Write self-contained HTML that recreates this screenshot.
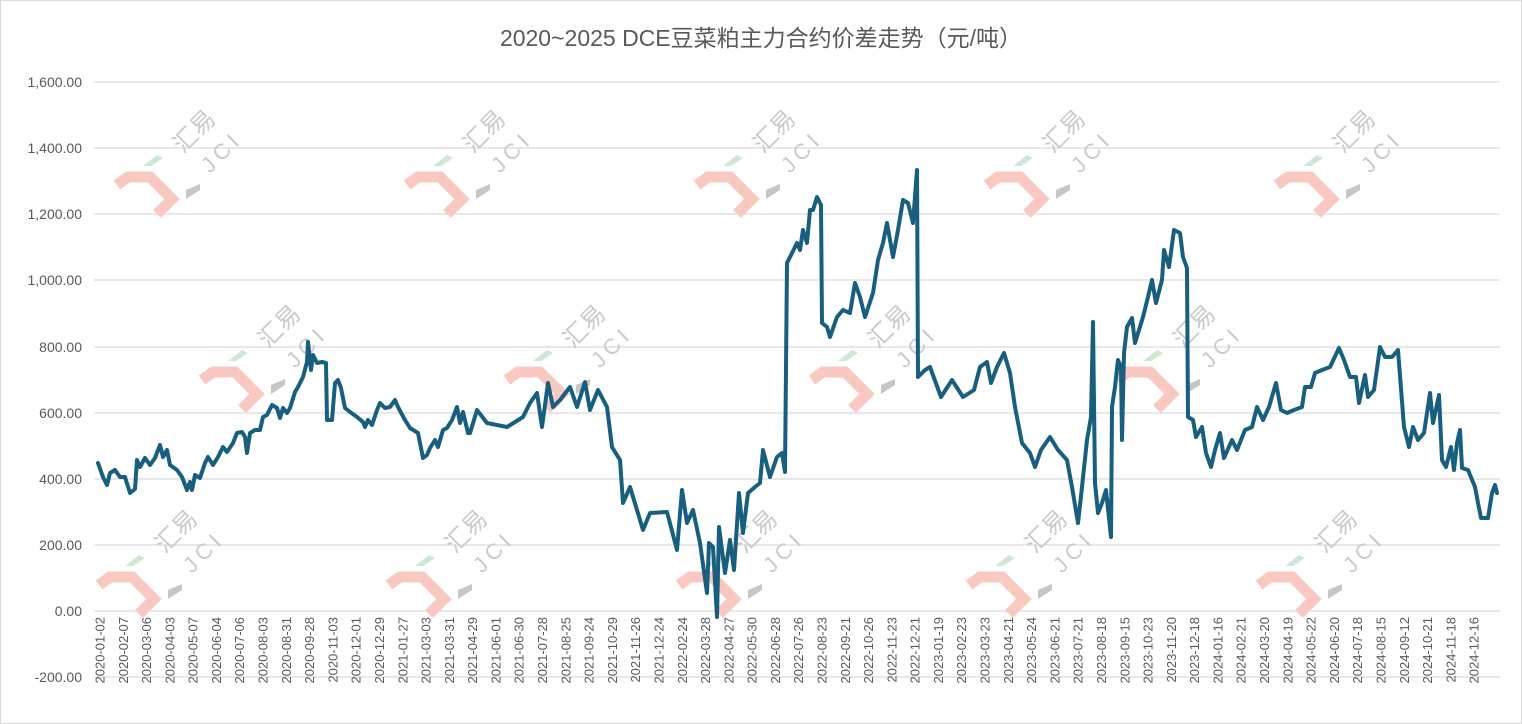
<!DOCTYPE html>
<html><head><meta charset="utf-8"><style>
html,body{margin:0;padding:0;background:#fff;}
svg{display:block;font-family:"Liberation Sans","Noto Sans CJK SC",sans-serif;}
</style></head><body>
<svg width="1522" height="724" viewBox="0 0 1522 724" xmlns="http://www.w3.org/2000/svg">
<rect x="0.5" y="0.5" width="1521" height="723" fill="#fff" stroke="#d9d9d9"/>
<text x="761" y="46" text-anchor="middle" font-size="23" fill="#595959">2020~2025 DCE豆菜粕主力合约价差走势（元/吨）</text>
<g stroke="#d9d9d9" stroke-width="1.3">
<line x1="94" x2="1500" y1="82" y2="82"/><line x1="94" x2="1500" y1="148" y2="148"/>
<line x1="94" x2="1500" y1="214" y2="214"/><line x1="94" x2="1500" y1="280" y2="280"/>
<line x1="94" x2="1500" y1="347" y2="347"/><line x1="94" x2="1500" y1="413" y2="413"/>
<line x1="94" x2="1500" y1="479" y2="479"/><line x1="94" x2="1500" y1="545" y2="545"/>
<line x1="94" x2="1500" y1="611" y2="611"/><line x1="94" x2="1500" y1="677" y2="677"/>
</g>
<g font-size="14" fill="#595959" text-anchor="end">
<text x="82" y="87">1,600.00</text><text x="82" y="153">1,400.00</text>
<text x="82" y="219">1,200.00</text><text x="82" y="285">1,000.00</text>
<text x="82" y="352">800.00</text><text x="82" y="418">600.00</text>
<text x="82" y="484">400.00</text><text x="82" y="550">200.00</text>
<text x="82" y="616">0.00</text><text x="82" y="682">-200.00</text>
</g>
<g id="wm">
<g transform="translate(140,190)"><polyline points="-23,-5 -12,-13 10,-13 32,9 17,24" fill="none" stroke="#f9c8c1" stroke-width="11"/><polygon points="3,-24 17,-35 23,-32 11,-24" fill="#cfe7d3"/><polygon points="46,9 46,0 60,-6 60,0" fill="#c6c6c6"/><text transform="translate(60,-53) rotate(-45)" font-size="24" fill="#cacaca" text-anchor="middle">汇易</text><text transform="translate(87,-33) rotate(-45)" font-size="22" fill="#cacaca" text-anchor="middle" letter-spacing="5">JCI</text></g>
<g transform="translate(430,190)"><polyline points="-23,-5 -12,-13 10,-13 32,9 17,24" fill="none" stroke="#f9c8c1" stroke-width="11"/><polygon points="3,-24 17,-35 23,-32 11,-24" fill="#cfe7d3"/><polygon points="46,9 46,0 60,-6 60,0" fill="#c6c6c6"/><text transform="translate(60,-53) rotate(-45)" font-size="24" fill="#cacaca" text-anchor="middle">汇易</text><text transform="translate(87,-33) rotate(-45)" font-size="22" fill="#cacaca" text-anchor="middle" letter-spacing="5">JCI</text></g>
<g transform="translate(720,190)"><polyline points="-23,-5 -12,-13 10,-13 32,9 17,24" fill="none" stroke="#f9c8c1" stroke-width="11"/><polygon points="3,-24 17,-35 23,-32 11,-24" fill="#cfe7d3"/><polygon points="46,9 46,0 60,-6 60,0" fill="#c6c6c6"/><text transform="translate(60,-53) rotate(-45)" font-size="24" fill="#cacaca" text-anchor="middle">汇易</text><text transform="translate(87,-33) rotate(-45)" font-size="22" fill="#cacaca" text-anchor="middle" letter-spacing="5">JCI</text></g>
<g transform="translate(1010,190)"><polyline points="-23,-5 -12,-13 10,-13 32,9 17,24" fill="none" stroke="#f9c8c1" stroke-width="11"/><polygon points="3,-24 17,-35 23,-32 11,-24" fill="#cfe7d3"/><polygon points="46,9 46,0 60,-6 60,0" fill="#c6c6c6"/><text transform="translate(60,-53) rotate(-45)" font-size="24" fill="#cacaca" text-anchor="middle">汇易</text><text transform="translate(87,-33) rotate(-45)" font-size="22" fill="#cacaca" text-anchor="middle" letter-spacing="5">JCI</text></g>
<g transform="translate(1300,190)"><polyline points="-23,-5 -12,-13 10,-13 32,9 17,24" fill="none" stroke="#f9c8c1" stroke-width="11"/><polygon points="3,-24 17,-35 23,-32 11,-24" fill="#cfe7d3"/><polygon points="46,9 46,0 60,-6 60,0" fill="#c6c6c6"/><text transform="translate(60,-53) rotate(-45)" font-size="24" fill="#cacaca" text-anchor="middle">汇易</text><text transform="translate(87,-33) rotate(-45)" font-size="22" fill="#cacaca" text-anchor="middle" letter-spacing="5">JCI</text></g>
<g transform="translate(225,385)"><polyline points="-23,-5 -12,-13 10,-13 32,9 17,24" fill="none" stroke="#f9c8c1" stroke-width="11"/><polygon points="3,-24 17,-35 23,-32 11,-24" fill="#cfe7d3"/><polygon points="46,9 46,0 60,-6 60,0" fill="#c6c6c6"/><text transform="translate(60,-53) rotate(-45)" font-size="24" fill="#cacaca" text-anchor="middle">汇易</text><text transform="translate(87,-33) rotate(-45)" font-size="22" fill="#cacaca" text-anchor="middle" letter-spacing="5">JCI</text></g>
<g transform="translate(530,385)"><polyline points="-23,-5 -12,-13 10,-13 32,9 17,24" fill="none" stroke="#f9c8c1" stroke-width="11"/><polygon points="3,-24 17,-35 23,-32 11,-24" fill="#cfe7d3"/><polygon points="46,9 46,0 60,-6 60,0" fill="#c6c6c6"/><text transform="translate(60,-53) rotate(-45)" font-size="24" fill="#cacaca" text-anchor="middle">汇易</text><text transform="translate(87,-33) rotate(-45)" font-size="22" fill="#cacaca" text-anchor="middle" letter-spacing="5">JCI</text></g>
<g transform="translate(835,385)"><polyline points="-23,-5 -12,-13 10,-13 32,9 17,24" fill="none" stroke="#f9c8c1" stroke-width="11"/><polygon points="3,-24 17,-35 23,-32 11,-24" fill="#cfe7d3"/><polygon points="46,9 46,0 60,-6 60,0" fill="#c6c6c6"/><text transform="translate(60,-53) rotate(-45)" font-size="24" fill="#cacaca" text-anchor="middle">汇易</text><text transform="translate(87,-33) rotate(-45)" font-size="22" fill="#cacaca" text-anchor="middle" letter-spacing="5">JCI</text></g>
<g transform="translate(1140,385)"><polyline points="-23,-5 -12,-13 10,-13 32,9 17,24" fill="none" stroke="#f9c8c1" stroke-width="11"/><polygon points="3,-24 17,-35 23,-32 11,-24" fill="#cfe7d3"/><polygon points="46,9 46,0 60,-6 60,0" fill="#c6c6c6"/><text transform="translate(60,-53) rotate(-45)" font-size="24" fill="#cacaca" text-anchor="middle">汇易</text><text transform="translate(87,-33) rotate(-45)" font-size="22" fill="#cacaca" text-anchor="middle" letter-spacing="5">JCI</text></g>
<g transform="translate(122,590)"><polyline points="-23,-5 -12,-13 10,-13 32,9 17,24" fill="none" stroke="#f9c8c1" stroke-width="11"/><polygon points="3,-24 17,-35 23,-32 11,-24" fill="#cfe7d3"/><polygon points="46,9 46,0 60,-6 60,0" fill="#c6c6c6"/><text transform="translate(60,-53) rotate(-45)" font-size="24" fill="#cacaca" text-anchor="middle">汇易</text><text transform="translate(87,-33) rotate(-45)" font-size="22" fill="#cacaca" text-anchor="middle" letter-spacing="5">JCI</text></g>
<g transform="translate(412,590)"><polyline points="-23,-5 -12,-13 10,-13 32,9 17,24" fill="none" stroke="#f9c8c1" stroke-width="11"/><polygon points="3,-24 17,-35 23,-32 11,-24" fill="#cfe7d3"/><polygon points="46,9 46,0 60,-6 60,0" fill="#c6c6c6"/><text transform="translate(60,-53) rotate(-45)" font-size="24" fill="#cacaca" text-anchor="middle">汇易</text><text transform="translate(87,-33) rotate(-45)" font-size="22" fill="#cacaca" text-anchor="middle" letter-spacing="5">JCI</text></g>
<g transform="translate(702,590)"><polyline points="-23,-5 -12,-13 10,-13 32,9 17,24" fill="none" stroke="#f9c8c1" stroke-width="11"/><polygon points="3,-24 17,-35 23,-32 11,-24" fill="#cfe7d3"/><polygon points="46,9 46,0 60,-6 60,0" fill="#c6c6c6"/><text transform="translate(60,-53) rotate(-45)" font-size="24" fill="#cacaca" text-anchor="middle">汇易</text><text transform="translate(87,-33) rotate(-45)" font-size="22" fill="#cacaca" text-anchor="middle" letter-spacing="5">JCI</text></g>
<g transform="translate(992,590)"><polyline points="-23,-5 -12,-13 10,-13 32,9 17,24" fill="none" stroke="#f9c8c1" stroke-width="11"/><polygon points="3,-24 17,-35 23,-32 11,-24" fill="#cfe7d3"/><polygon points="46,9 46,0 60,-6 60,0" fill="#c6c6c6"/><text transform="translate(60,-53) rotate(-45)" font-size="24" fill="#cacaca" text-anchor="middle">汇易</text><text transform="translate(87,-33) rotate(-45)" font-size="22" fill="#cacaca" text-anchor="middle" letter-spacing="5">JCI</text></g>
<g transform="translate(1282,590)"><polyline points="-23,-5 -12,-13 10,-13 32,9 17,24" fill="none" stroke="#f9c8c1" stroke-width="11"/><polygon points="3,-24 17,-35 23,-32 11,-24" fill="#cfe7d3"/><polygon points="46,9 46,0 60,-6 60,0" fill="#c6c6c6"/><text transform="translate(60,-53) rotate(-45)" font-size="24" fill="#cacaca" text-anchor="middle">汇易</text><text transform="translate(87,-33) rotate(-45)" font-size="22" fill="#cacaca" text-anchor="middle" letter-spacing="5">JCI</text></g>
</g>
<polyline fill="none" stroke="#175e7f" stroke-width="4" stroke-linejoin="round" stroke-linecap="round" points="
98,463 103,477 107,485 110,473 115,470 120,477 125,477 130,493 135,489 137,460 140,467 145,458 150,465 155,458 160,445 163,457 167,450 170,465 177,470 182,477 187,490 190,482 192,490 195,475 200,478 205,463 208,457 213,465 218,457 223,447 227,452 233,443 237,433 242,432 245,437 247,453 250,433 255,430 260,430 263,417 267,415 272,405 277,408 280,418 283,408 287,413 290,408 295,392 298,387 303,377 307,362 308,342 311,370 313,355 317,363 322,362 326,363 327,420 332,420 335,383 338,380 341,388 345,408 350,412 357,417 363,422 365,427 368,420 372,425 377,410 380,403 385,408 390,407 395,400 398,407 405,420 410,428 418,433 423,458 427,455 430,448 435,440 438,447 443,430 447,428 452,420 457,407 460,423 463,412 468,433
470,433 477,410 487,423 507,427 523,417 530,403 537,393 542,427 548,383 553,407 560,400 570,387 577,407 585,382 590,410 598,390 607,407 612,447 620,460 623,503 630,487 637,510 643,530 650,513 667,512 677,550 682,490 687,523 693,510 700,543 707,593 709,543 713,547 717,617 719,527 725,573 730,540 734,570 739,493 743,533 748,493 755,487 760,483 763,450 770,477 777,457 782,453 785,472 787,263 792,253 797,243 800,250 803,230 807,243 810,210 813,210 817,197 821,205 822,323 827,327 830,337 837,317 843,310 850,313 855,283 860,297 865,317 873,293 878,260 883,243 887,223 893,257 898,230 903,200 908,203 913,223 917,170 918,377 925,370 930,367
941,397 952,380 963,397 974,390 980,367 987,362 991,383 997,367 1004,353 1010,373 1015,407 1022,443 1030,453 1035,467 1041,450 1050,437 1058,450 1067,460 1072,487 1078,523 1082,487 1087,440 1091,417 1093,322 1095,483 1098,513 1102,503 1106,490 1111,537 1112,407 1115,387 1118,360 1121,367 1122,440 1124,353 1127,327 1132,318 1135,343 1143,317 1148,297 1152,280 1156,303 1162,280 1164,250 1169,267 1174,230 1180,233 1183,257 1187,268 1188,417 1193,420 1196,437 1202,427 1206,453 1211,467 1215,450 1220,433 1224,458 1232,440 1237,450 1245,430 1252,427 1257,407 1263,420 1269,407 1276,383 1281,410 1287,413 1294,410 1302,407 1305,387 1311,387 1315,373 1322,370 1330,367 1339,348 1344,360 1350,377 1356,377 1359,403 1365,375 1368,397 1374,390 1380,347 1385,357 1392,357 1398,350 1404,427 1409,447 1413,427 1418,440 1424,433 1430,393 1433,423 1439,395 1442,460 1446,467 1451,447 1454,470 1457,443 1460,430 1462,468 1468,470 1475,487 1478,503 1481,518 1488,518 1492,493 1495,485 1497,493"/>
<g font-size="13" fill="#595959" text-anchor="end">
<text transform="translate(104.5,617) rotate(-90)">2020-01-02</text>
<text transform="translate(127.8,617) rotate(-90)">2020-02-07</text>
<text transform="translate(151.1,617) rotate(-90)">2020-03-06</text>
<text transform="translate(174.4,617) rotate(-90)">2020-04-03</text>
<text transform="translate(197.7,617) rotate(-90)">2020-05-07</text>
<text transform="translate(220.9,617) rotate(-90)">2020-06-04</text>
<text transform="translate(244.2,617) rotate(-90)">2020-07-06</text>
<text transform="translate(267.5,617) rotate(-90)">2020-08-03</text>
<text transform="translate(290.8,617) rotate(-90)">2020-08-31</text>
<text transform="translate(314.1,617) rotate(-90)">2020-09-28</text>
<text transform="translate(337.4,617) rotate(-90)">2020-11-03</text>
<text transform="translate(360.7,617) rotate(-90)">2020-12-01</text>
<text transform="translate(384.0,617) rotate(-90)">2020-12-29</text>
<text transform="translate(407.3,617) rotate(-90)">2021-01-27</text>
<text transform="translate(430.6,617) rotate(-90)">2021-03-03</text>
<text transform="translate(453.9,617) rotate(-90)">2021-03-31</text>
<text transform="translate(477.1,617) rotate(-90)">2021-04-29</text>
<text transform="translate(500.4,617) rotate(-90)">2021-06-01</text>
<text transform="translate(523.7,617) rotate(-90)">2021-06-30</text>
<text transform="translate(547.0,617) rotate(-90)">2021-07-28</text>
<text transform="translate(570.3,617) rotate(-90)">2021-08-25</text>
<text transform="translate(593.6,617) rotate(-90)">2021-09-24</text>
<text transform="translate(616.9,617) rotate(-90)">2021-10-29</text>
<text transform="translate(640.2,617) rotate(-90)">2021-11-26</text>
<text transform="translate(663.5,617) rotate(-90)">2021-12-24</text>
<text transform="translate(686.8,617) rotate(-90)">2022-02-24</text>
<text transform="translate(710.0,617) rotate(-90)">2022-03-28</text>
<text transform="translate(733.3,617) rotate(-90)">2022-04-27</text>
<text transform="translate(756.6,617) rotate(-90)">2022-05-30</text>
<text transform="translate(779.9,617) rotate(-90)">2022-06-28</text>
<text transform="translate(803.2,617) rotate(-90)">2022-07-26</text>
<text transform="translate(826.5,617) rotate(-90)">2022-08-23</text>
<text transform="translate(849.8,617) rotate(-90)">2022-09-21</text>
<text transform="translate(873.1,617) rotate(-90)">2022-10-26</text>
<text transform="translate(896.4,617) rotate(-90)">2022-11-23</text>
<text transform="translate(919.7,617) rotate(-90)">2022-12-21</text>
<text transform="translate(943.0,617) rotate(-90)">2023-01-19</text>
<text transform="translate(966.2,617) rotate(-90)">2023-02-23</text>
<text transform="translate(989.5,617) rotate(-90)">2023-03-23</text>
<text transform="translate(1012.8,617) rotate(-90)">2023-04-21</text>
<text transform="translate(1036.1,617) rotate(-90)">2023-05-24</text>
<text transform="translate(1059.4,617) rotate(-90)">2023-06-21</text>
<text transform="translate(1082.7,617) rotate(-90)">2023-07-21</text>
<text transform="translate(1106.0,617) rotate(-90)">2023-08-18</text>
<text transform="translate(1129.3,617) rotate(-90)">2023-09-15</text>
<text transform="translate(1152.6,617) rotate(-90)">2023-10-23</text>
<text transform="translate(1175.9,617) rotate(-90)">2023-11-20</text>
<text transform="translate(1199.1,617) rotate(-90)">2023-12-18</text>
<text transform="translate(1222.4,617) rotate(-90)">2024-01-16</text>
<text transform="translate(1245.7,617) rotate(-90)">2024-02-21</text>
<text transform="translate(1269.0,617) rotate(-90)">2024-03-20</text>
<text transform="translate(1292.3,617) rotate(-90)">2024-04-19</text>
<text transform="translate(1315.6,617) rotate(-90)">2024-05-22</text>
<text transform="translate(1338.9,617) rotate(-90)">2024-06-20</text>
<text transform="translate(1362.2,617) rotate(-90)">2024-07-18</text>
<text transform="translate(1385.5,617) rotate(-90)">2024-08-15</text>
<text transform="translate(1408.8,617) rotate(-90)">2024-09-12</text>
<text transform="translate(1432.1,617) rotate(-90)">2024-10-21</text>
<text transform="translate(1455.3,617) rotate(-90)">2024-11-18</text>
<text transform="translate(1478.6,617) rotate(-90)">2024-12-16</text>
</g>
</svg>
</body></html>
